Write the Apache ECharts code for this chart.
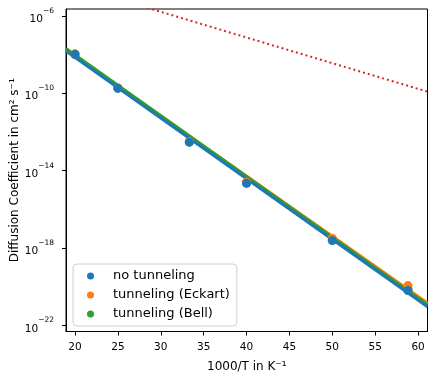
<!DOCTYPE html>
<html>
<head>
<meta charset="utf-8">
<script src="https://cdn.jsdelivr.net/npm/echarts@6/dist/echarts.min.js"></script>
<style>
html,body{margin:0;padding:0;background:#fff;}
#chart{width:437px;height:379px;}
</style>
</head>
<body>
<div id="chart"></div>
<script>
// x values: 1000/T in K^-1
const xPoints = [20, 25, 33.33, 40, 50, 58.82];
// Diffusion coefficients in cm^2 s^-1
const noTunneling = [1.0e-8, 1.78e-10, 2.95e-13, 2.24e-15, 2.45e-18, 6.46e-21];
const tunnelingEckart = [1.07e-8, 1.86e-10, 3.16e-13, 2.5e-15, 3.24e-18, 1.15e-20];
const tunnelingBell = [1.05e-8, 1.82e-10, 3.0e-13, 2.3e-15, 2.7e-18, 7.5e-21];
// fitted lines (endpoints)
const fitX = [18.95, 61.1];
const fitNoTunneling = [1.51e-8, 9.3e-22];
const fitEckart = [1.80e-8, 1.45e-21];
const fitBell = [2.04e-8, 1.17e-21];
const refLine = [4.68e-5, 1.2e-10];
// ticks
const xTicks = [20, 25, 30, 35, 40, 45, 50, 55, 60];
const yTickExponents = [-22, -18, -14, -10, -6];
const seriesNames = ['no tunneling', 'tunneling (Eckart)', 'tunneling (Bell)'];
const colors = ['#1f77b4', '#ff7f0e', '#2ca02c'];

const pts = (xs, ys) => xs.map((x, i) => [x, Math.log10(ys[i])]);

const chart = echarts.init(document.getElementById('chart'), null, {renderer: 'canvas'});
const font = 'DejaVu Sans';
const option = {
  animation: false,
  backgroundColor: '#fff',
  grid: {left: 66, top: 9, right: 9.5, bottom: 47.5, show: true, borderColor: '#000', borderWidth: 1,
         backgroundColor: 'transparent', containLabel: false, outerBoundsMode: 'none'},
  xAxis: {
    type: 'value', min: 18.95, max: 61.1,
    name: '1000/T in K\u207B\u00B9', nameLocation: 'middle', nameGap: 29,
    nameTextStyle: {fontFamily: font, fontSize: 12, color: '#000'},
    axisLine: {show: true, lineStyle: {color: '#000', width: 1}},
    axisTick: {show: true, length: 4, lineStyle: {color: '#000'}, customValues: xTicks},
    axisLabel: {fontFamily: font, fontSize: 10.5, color: '#000', margin: 10, customValues: xTicks},
    splitLine: {show: false}
  },
  yAxis: {
    type: 'value', min: -22.31, max: -5.65,
    name: 'Diffusion Coefficient in cm\u00B2 s\u207B\u00B9', nameLocation: 'middle', nameGap: 45,
    nameMoveOverlap: false,
    nameTextStyle: {fontFamily: font, fontSize: 12, color: '#000'},
    axisLine: {show: true, lineStyle: {color: '#000', width: 1}},
    axisTick: {show: true, length: 4, lineStyle: {color: '#000'}, customValues: yTickExponents},
    axisLabel: {
      fontFamily: font, color: '#000', margin: 12, customValues: yTickExponents,
      formatter: v => '{b|10}{s|\u2212' + Math.abs(v) + '}',
      rich: {
        b: {fontFamily: font, fontSize: 10.5, color: '#000', lineHeight: 18, verticalAlign: 'bottom'},
        s: {fontFamily: font, fontSize: 7.5, color: '#000', lineHeight: 10, verticalAlign: 'top'}
      }
    },
    splitLine: {show: false}
  },
  legend: {
    orient: 'vertical', left: 73, top: 264,
    data: seriesNames,
    backgroundColor: 'rgba(255,255,255,0.8)', borderColor: '#d0d0d0', borderWidth: 1, borderRadius: 4,
    padding: [5, 7, 5, 14], itemWidth: 7, itemHeight: 7, itemGap: 5,
    textStyle: {fontFamily: font, fontSize: 13, color: '#000', padding: [0, 0, 0, 14], lineHeight: 14}
  },
  series: [
    {name: 'ref', type: 'line', data: pts(fitX, refLine), symbol: 'none', clip: true, z: 1,
     lineStyle: {color: '#d62728', width: 2, type: [2, 3]}},
    {name: 'fit Eckart', type: 'line', data: pts(fitX, fitEckart), symbol: 'none', clip: true, z: 2,
     lineStyle: {color: colors[1], width: 3}},
    {name: 'fit Bell', type: 'line', data: pts(fitX, fitBell), symbol: 'none', clip: true, z: 2,
     lineStyle: {color: colors[2], width: 3}},
    {name: 'fit no tunneling', type: 'line', data: pts(fitX, fitNoTunneling), symbol: 'none', clip: true, z: 2,
     lineStyle: {color: colors[0], width: 3}},
    {name: seriesNames[2], type: 'scatter', data: pts(xPoints, tunnelingBell), symbol: 'circle', symbolSize: 9, z: 3,
     itemStyle: {color: colors[2], opacity: 1}},
    {name: seriesNames[1], type: 'scatter', data: pts(xPoints, tunnelingEckart), symbol: 'circle', symbolSize: 9, z: 4,
     itemStyle: {color: colors[1], opacity: 1}},
    {name: seriesNames[0], type: 'scatter', data: pts(xPoints, noTunneling), symbol: 'circle', symbolSize: 9, z: 5,
     itemStyle: {color: colors[0], opacity: 1}}
  ]
};
chart.setOption(option);
</script>
</body>
</html>
